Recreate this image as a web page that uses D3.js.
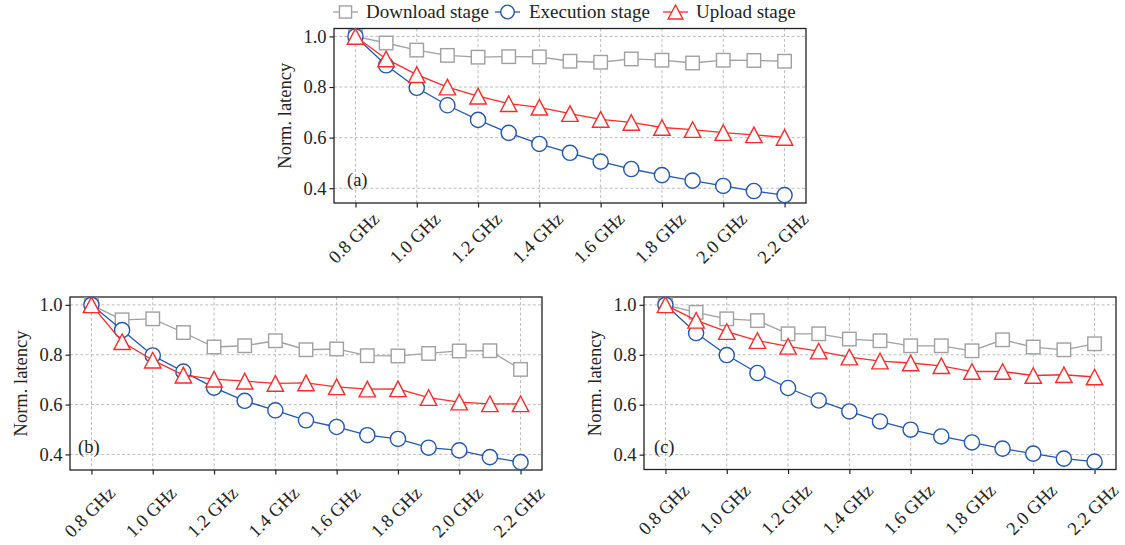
<!DOCTYPE html>
<html>
<head>
<meta charset="utf-8">
<script src="https://cdn.jsdelivr.net/npm/d3@7/dist/d3.min.js"></script>
<style>
  html, body { margin: 0; padding: 0; background: #fff; }
  svg { display: block; }
  text { font-family: "Liberation Serif", "Times New Roman", serif; fill: #222; }
</style>
</head>
<body>
<svg id="chart" width="1125" height="545"></svg>
<script>
// ---------- data ----------
const freqs = [0.8, 0.9, 1.0, 1.1, 1.2, 1.3, 1.4, 1.5, 1.6, 1.7, 1.8, 1.9, 2.0, 2.1, 2.2];
const xTicks = [0.8, 1.0, 1.2, 1.4, 1.6, 1.8, 2.0, 2.2];
const yTicks = [0.4, 0.6, 0.8, 1.0];
const seriesNames = ["Download stage", "Execution stage", "Upload stage"];

const aDownload = [1.0, 0.974, 0.946, 0.925, 0.918, 0.920, 0.919, 0.902, 0.898, 0.911, 0.906, 0.895, 0.906, 0.905, 0.902];
const aExecution = [1.0, 0.886, 0.797, 0.728, 0.670, 0.619, 0.575, 0.540, 0.505, 0.476, 0.452, 0.430, 0.409, 0.389, 0.373];
const aUpload = [1.0, 0.911, 0.849, 0.800, 0.764, 0.734, 0.720, 0.695, 0.672, 0.660, 0.640, 0.632, 0.620, 0.611, 0.601];

const bDownload = [1.0, 0.940, 0.944, 0.889, 0.831, 0.836, 0.856, 0.820, 0.823, 0.796, 0.795, 0.805, 0.815, 0.816, 0.741];
const bExecution = [1.0, 0.899, 0.797, 0.732, 0.668, 0.615, 0.577, 0.537, 0.510, 0.477, 0.462, 0.427, 0.416, 0.389, 0.369];
const bUpload = [1.0, 0.852, 0.778, 0.718, 0.702, 0.694, 0.685, 0.687, 0.671, 0.662, 0.663, 0.628, 0.610, 0.603, 0.603];

const cDownload = [1.0, 0.970, 0.944, 0.937, 0.884, 0.884, 0.863, 0.856, 0.836, 0.836, 0.816, 0.860, 0.831, 0.820, 0.844];
const cExecution = [1.0, 0.887, 0.799, 0.727, 0.667, 0.617, 0.573, 0.533, 0.500, 0.473, 0.449, 0.424, 0.404, 0.384, 0.372];
const cUpload = [1.0, 0.938, 0.893, 0.857, 0.834, 0.815, 0.791, 0.775, 0.767, 0.756, 0.733, 0.733, 0.717, 0.720, 0.711];

// ---------- styles ----------
const colors = ["#a0a0a0", "#2156b2", "#ff2a2a"];
const markers = ["square", "circle", "triangle"];
const FONT = 18.5;
const FAMILY = '"Liberation Serif", "Times New Roman", serif';

const panels = [
  { tag: "(a)", left: 334, right: 806, top: 28.5, bottom: 203, series: [aDownload, aExecution, aUpload], labOff: 35, tagDx: 13 },
  { tag: "(b)", left: 70, right: 542, top: 297, bottom: 470, series: [bDownload, bExecution, bUpload], labOff: 42, tagDx: 8 },
  { tag: "(c)", left: 644, right: 1116, top: 297, bottom: 469.5, series: [cDownload, cExecution, cUpload], labOff: 40, tagDx: 10 }
];

const svg = d3.select("#chart");

function drawMarker(g, type, x, y, color, s) {
  s = s || 1;
  if (type === "square") {
    const h = 13.5 * s;
    g.append("rect").attr("x", x - h / 2).attr("y", y - h / 2).attr("width", h).attr("height", h)
      .attr("fill", "#fff").attr("stroke", color).attr("stroke-width", 1.4);
  } else if (type === "circle") {
    g.append("circle").attr("cx", x).attr("cy", y).attr("r", 7.6 * s)
      .attr("fill", "#fff").attr("stroke", color).attr("stroke-width", 1.4);
  } else {
    const w = 8.2 * s, h = 7.8 * s;
    g.append("path").attr("d", `M${x},${y - h}L${x - w},${y + h}L${x + w},${y + h}Z`)
      .attr("fill", "#fff").attr("stroke", color).attr("stroke-width", 1.4).attr("stroke-linejoin", "miter");
  }
}

panels.forEach(p => {
  const all = p.series.flat();
  const [mn, mx] = d3.extent(all);
  const m = (mx - mn) * 0.05;
  const y = d3.scaleLinear().domain([mn - m, mx + m]).range([p.bottom, p.top]);
  const xm = (freqs[freqs.length - 1] - freqs[0]) * 0.05;
  const x = d3.scaleLinear().domain([freqs[0] - xm, freqs[freqs.length - 1] + xm]).range([p.left, p.right]);

  const g = svg.append("g");

  // grid
  const grid = g.append("g").attr("stroke", "#b4b4b4").attr("stroke-width", 0.9).attr("stroke-dasharray", "3,2.2");
  xTicks.forEach(t => grid.append("line").attr("x1", x(t)).attr("x2", x(t)).attr("y1", p.top).attr("y2", p.bottom));
  yTicks.forEach(t => grid.append("line").attr("x1", p.left).attr("x2", p.right).attr("y1", y(t)).attr("y2", y(t)));

  // y axis
  const yAxis = d3.axisLeft(y).tickValues(yTicks).tickFormat(d3.format(".1f")).tickSize(4.5).tickPadding(3);
  const ya = g.append("g").attr("transform", `translate(${p.left},0)`).call(yAxis)
    .attr("font-family", FAMILY);
  ya.select(".domain").remove();
  ya.selectAll(".tick line").attr("stroke", "#222").attr("stroke-width", 1.2);
  ya.selectAll(".tick text").attr("font-size", FONT).attr("fill", "#222");

  // x axis
  const xAxis = d3.axisBottom(x).tickValues(xTicks).tickFormat(d => d3.format(".1f")(d) + " GHz").tickSize(4.5);
  const xa = g.append("g").attr("transform", `translate(0,${p.bottom})`).call(xAxis)
    .attr("font-family", FAMILY);
  xa.select(".domain").remove();
  xa.selectAll(".tick line").attr("stroke", "#222").attr("stroke-width", 1.2);
  xa.selectAll(".tick text")
    .attr("font-size", FONT).attr("fill", "#222")
    .attr("text-anchor", "middle").attr("dominant-baseline", "central")
    .attr("x", 0).attr("y", 0).attr("dy", null)
    .attr("transform", `translate(-2,${p.labOff}) rotate(-45)`);

  // frame
  g.append("rect").attr("x", p.left).attr("y", p.top).attr("width", p.right - p.left).attr("height", p.bottom - p.top)
    .attr("fill", "none").attr("stroke", "#222").attr("stroke-width", 1.3);

  // y label
  g.append("text").attr("transform", `translate(${p.left - 49},${(p.top + p.bottom) / 2}) rotate(-90)`)
    .attr("text-anchor", "middle").attr("dominant-baseline", "central").attr("font-size", FONT).text("Norm. latency");

  // panel tag
  g.append("text").attr("x", p.left + p.tagDx).attr("y", p.bottom - 17).attr("font-size", FONT).text(p.tag);

  // series
  const line = d3.line().x((d, i) => x(freqs[i])).y(d => y(d));
  p.series.forEach((vals, si) => {
    const sg = g.append("g");
    sg.append("path").datum(vals).attr("d", line).attr("fill", "none")
      .attr("stroke", colors[si]).attr("stroke-width", 1.3);
    vals.forEach((v, i) => drawMarker(sg, markers[si], x(freqs[i]), y(v), colors[si]));
  });
});

// legend
const legendItems = [
  { x0: 333, tx: 366 },
  { x0: 495, tx: 529 },
  { x0: 663, tx: 696 }
];
const lg = svg.append("g");
legendItems.forEach((it, i) => {
  const ly = 12;
  lg.append("line").attr("x1", it.x0).attr("x2", it.x0 + 25).attr("y1", ly).attr("y2", ly)
    .attr("stroke", colors[i]).attr("stroke-width", 1.3);
  drawMarker(lg, markers[i], it.x0 + 12.5, ly, colors[i], 0.9);
  lg.append("text").attr("x", it.tx).attr("y", 18).attr("font-size", 19).text(seriesNames[i]);
});
</script>
</body>
</html>
